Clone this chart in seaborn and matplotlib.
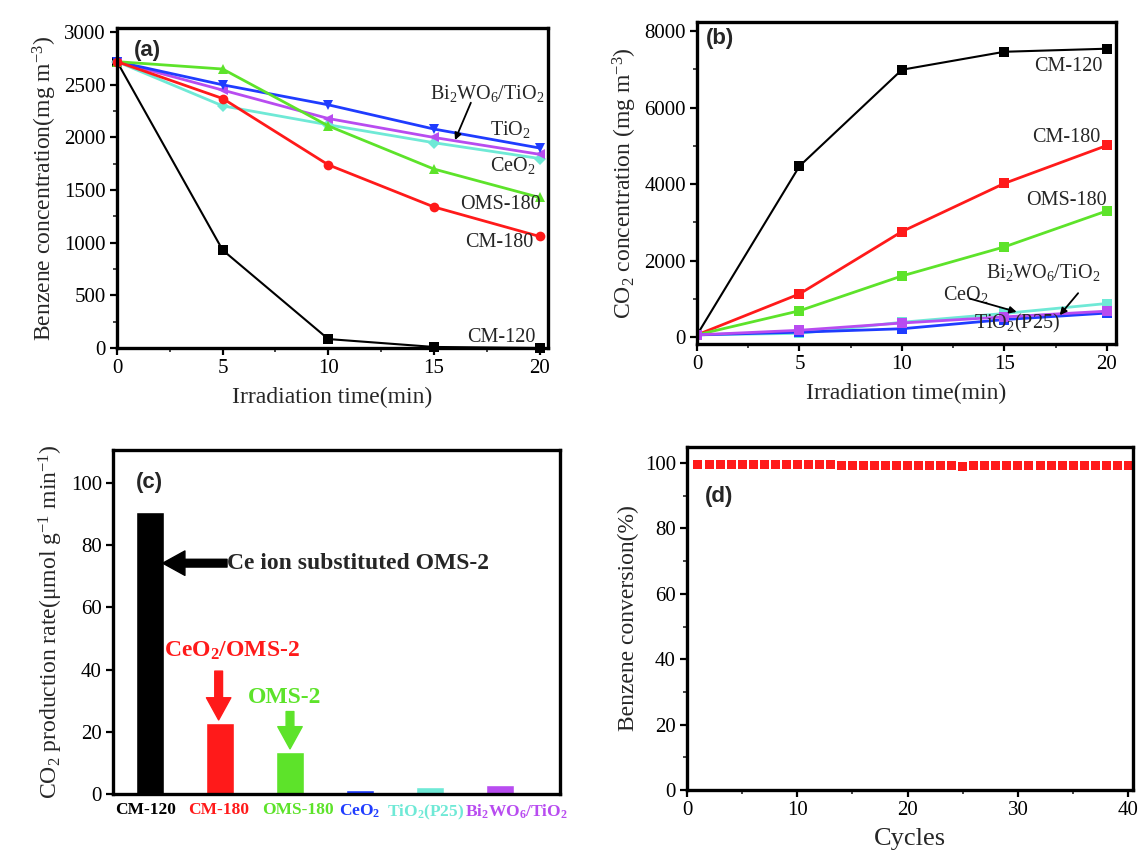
import numpy as np
import pandas as pd
import matplotlib
matplotlib.use("Agg")
import matplotlib.pyplot as plt
from matplotlib.ticker import AutoMinorLocator, MultipleLocator
from matplotlib.transforms import ScaledTranslation
import seaborn as sns

# ---- data -------------------------------------------------------------
time_min = [0, 5, 10, 15, 20]

# (a) benzene concentration, mg m^-3
benz_cm120 = [2720, 930, 85, 10, 0]
benz_cm180 = [2720, 2370, 1740, 1340, 1060]
benz_oms180 = [2720, 2650, 2110, 1700, 1430]
benz_ceo2 = [2720, 2500, 2310, 2080, 1900]
benz_tio2 = [2720, 2300, 2120, 1950, 1800]
benz_bi2wo6 = [2720, 2450, 2180, 2000, 1840]

# (b) CO2 concentration, mg m^-3
co2_cm120 = [60, 4470, 6990, 7460, 7540]
co2_cm180 = [60, 1130, 2760, 4020, 5010]
co2_oms180 = [60, 690, 1600, 2360, 3300]
co2_ceo2 = [60, 130, 220, 460, 630]
co2_tio2 = [60, 100, 390, 620, 880]
co2_bi2wo6 = [60, 180, 370, 530, 680]

# (c) CO2 production rate, umol g^-1 min^-1
catalysts = ["CM-120", "CM-180", "OMS-180", "CeO2", "TiO2(P25)", "Bi2WO6/TiO2"]
catalyst_labels = [r"CM-120", r"CM-180", r"OMS-180", r"CeO$_\mathbf{2}$",
                   r"TiO$_\mathbf{2}$(P25)", r"Bi$_\mathbf{2}$WO$_\mathbf{6}$/TiO$_\mathbf{2}$"]
co2_rate = [90.8, 22.8, 13.5, 1.2, 2.3, 3.0]

# (d) benzene conversion over repeated cycles, %
cycles = list(range(1, 41))
conversion = [99.5, 99.5, 99.5, 99.5, 99.5, 99.5, 99.5, 99.5, 99.5, 99.5,
              99.5, 99.5, 99.5, 99.3, 99.4, 99.4, 99.4, 99.4, 99.4, 99.4,
              99.4, 99.4, 99.4, 99.4, 99.1, 99.4, 99.4, 99.4, 99.4, 99.4,
              99.4, 99.2, 99.4, 99.4, 99.4, 99.4, 99.4, 99.4, 99.4, 99.4]

# ---- style --------------------------------------------------------------
C_BLACK = "#000000"
C_RED = "#ff1a1a"
C_GREEN = "#5de32a"
C_BLUE = "#1f3cff"
C_CYAN = "#6fe9d6"
C_PURPLE = "#b84cf0"

sns.set_theme(style="ticks")
plt.rcParams["font.family"] = ["Liberation Serif", "DejaVu Serif"]
plt.rcParams["mathtext.fontset"] = "custom"
plt.rcParams["mathtext.rm"] = "Liberation Serif"
plt.rcParams["mathtext.it"] = "Liberation Serif:italic"
plt.rcParams["mathtext.bf"] = "Liberation Serif:bold"
plt.rcParams["axes.linewidth"] = 2.4
plt.rcParams["axes.edgecolor"] = "black"

TICK_FS = 15
LABEL_FS = 17

fig = plt.figure(figsize=(11.43, 8.58), dpi=100)
ax_a = fig.add_axes([0.1024, 0.5944, 0.377, 0.373])
ax_b = fig.add_axes([0.6098, 0.599, 0.3666, 0.375])
ax_c = fig.add_axes([0.0989, 0.0746, 0.391, 0.401])
ax_d = fig.add_axes([0.601, 0.0793, 0.390, 0.400])


def style_axis(ax, minor_x=True, minor_y=True):
    ax.tick_params(which="major", direction="out", length=5, width=1.6,
                   labelsize=TICK_FS, colors="black", pad=3)
    ax.tick_params(which="minor", direction="out", length=3, width=1.2)
    if minor_x:
        ax.xaxis.set_minor_locator(AutoMinorLocator(2))
    if minor_y:
        ax.yaxis.set_minor_locator(AutoMinorLocator(2))
    for s in ax.spines.values():
        s.set_visible(True)
        s.set_linewidth(2.4)
        s.set_color("black")
    ax.grid(False)


def panel_tag(ax, tag, x, y):
    ax.text(x, y, tag, transform=ax.transAxes, fontsize=16, fontweight="bold",
            family=["Liberation Sans", "DejaVu Sans"], ha="left", va="center")


def series_frame(names, arrays):
    rows = []
    for n, arr in zip(names, arrays):
        for t, v in zip(time_min, arr):
            rows.append({"time": t, "value": v, "sample": n})
    return pd.DataFrame(rows)


# ---- (a) benzene degradation ---------------------------------------------
names = ["CM-120", "CM-180", "OMS-180", "CeO2", "TiO2", "Bi2WO6/TiO2"]
palette = dict(zip(names, [C_BLACK, C_RED, C_GREEN, C_BLUE, C_CYAN, C_PURPLE]))
markers_a = dict(zip(names, ["s", "o", "^", "v", "D", "<"]))
df_a = series_frame(names, [benz_cm120, benz_cm180, benz_oms180,
                            benz_ceo2, benz_tio2, benz_bi2wo6])
draw_order = ["CM-120", "TiO2", "Bi2WO6/TiO2", "CeO2", "OMS-180", "CM-180"]
for n in draw_order:
    sub = df_a[df_a["sample"] == n]
    sns.lineplot(data=sub, x="time", y="value", ax=ax_a, color=palette[n],
                 marker=markers_a[n], markersize=7 if n != "TiO2" else 6,
                 markeredgewidth=0, linewidth=2.0 if n != "CM-120" else 1.5,
                 legend=False, clip_on=False)
ax_a.set_xlim(0, 20.4)
ax_a.set_ylim(0, 3040)
ax_a.xaxis.set_major_locator(MultipleLocator(5))
ax_a.yaxis.set_major_locator(MultipleLocator(500))
style_axis(ax_a)
ax_a.set_xlabel("Irradiation time(min)", fontsize=LABEL_FS, labelpad=6)
ax_a.set_ylabel(r"Benzene concentration(mg m$^{-3}$)", fontsize=LABEL_FS, labelpad=4)
panel_tag(ax_a, "(a)", 0.04, 0.93)

lab_fs = 14.5
ax_a.text(20.25, 2420, r"Bi$_2$WO$_6$/TiO$_2$", fontsize=lab_fs, ha="right", va="center")
ax_a.annotate("", xy=(16.0, 1975), xytext=(16.75, 2330),
              arrowprops=dict(arrowstyle="-|>", color="black", lw=1.3,
                              mutation_scale=10, shrinkA=0, shrinkB=0))
ax_a.text(19.6, 2075, r"TiO$_2$", fontsize=lab_fs, ha="right", va="center")
ax_a.text(19.8, 1735, r"CeO$_2$", fontsize=lab_fs, ha="right", va="center")
ax_a.text(20.05, 1360, "OMS-180", fontsize=lab_fs, ha="right", va="center")
ax_a.text(19.7, 1000, "CM-180", fontsize=lab_fs, ha="right", va="center")
ax_a.text(19.8, 100, "CM-120", fontsize=lab_fs, ha="right", va="center")

# ---- (b) CO2 evolution ----------------------------------------------------
df_b = series_frame(names, [co2_cm120, co2_cm180, co2_oms180,
                            co2_ceo2, co2_tio2, co2_bi2wo6])
for n in ["CM-120", "CM-180", "OMS-180", "TiO2", "CeO2", "Bi2WO6/TiO2"]:
    sub = df_b[df_b["sample"] == n]
    sns.lineplot(data=sub, x="time", y="value", ax=ax_b, color=palette[n],
                 marker="s", markersize=7, markeredgewidth=0,
                 linewidth=2.0 if n != "CM-120" else 1.5, legend=False)
ax_b.set_xlim(0, 20.45)
ax_b.set_ylim(-180, 8230)
ax_b.xaxis.set_major_locator(MultipleLocator(5))
ax_b.yaxis.set_major_locator(MultipleLocator(2000))
style_axis(ax_b)
ax_b.set_xlabel("Irradiation time(min)", fontsize=LABEL_FS, labelpad=6)
ax_b.set_ylabel(r"CO$_2$ concentration (mg m$^{-3}$)", fontsize=LABEL_FS, labelpad=4)
panel_tag(ax_b, "(b)", 0.02, 0.95)

ax_b.text(19.8, 7080, "CM-120", fontsize=lab_fs, ha="right", va="center")
ax_b.text(19.7, 5230, "CM-180", fontsize=lab_fs, ha="right", va="center")
ax_b.text(20.0, 3580, "OMS-180", fontsize=lab_fs, ha="right", va="center")
ax_b.text(19.7, 1700, r"Bi$_2$WO$_6$/TiO$_2$", fontsize=lab_fs, ha="right", va="center")
ax_b.text(12.0, 1120, r"CeO$_2$", fontsize=lab_fs, ha="left", va="center")
ax_b.text(13.5, 370, r"TiO$_2$(P25)", fontsize=lab_fs, ha="left", va="center")
ax_b.annotate("", xy=(15.6, 660), xytext=(13.3, 1010),
              arrowprops=dict(arrowstyle="-|>", color="black", lw=1.3,
                              mutation_scale=10, shrinkA=0, shrinkB=0))
ax_b.annotate("", xy=(17.7, 575), xytext=(18.6, 1150),
              arrowprops=dict(arrowstyle="-|>", color="black", lw=1.3,
                              mutation_scale=10, shrinkA=0, shrinkB=0))

# ---- (c) CO2 production rate -----------------------------------------------
bar_colors = [C_BLACK, C_RED, C_GREEN, C_BLUE, C_CYAN, C_PURPLE]
df_c = pd.DataFrame({"catalyst": catalysts, "rate": co2_rate})
sns.barplot(data=df_c, x="catalyst", y="rate", hue="catalyst",
            palette=dict(zip(catalysts, bar_colors)), ax=ax_c,
            width=0.4, legend=False, saturation=1)
ax_c.set_xlim(-0.53, 5.86)
ax_c.set_ylim(0, 110.6)
ax_c.yaxis.set_major_locator(MultipleLocator(20))
style_axis(ax_c, minor_x=False, minor_y=False)
ax_c.tick_params(axis="x", length=0, pad=6)
ax_c.set_xticks(range(len(catalysts)))
ax_c.set_xticklabels(catalyst_labels, fontsize=12.5, fontweight="bold")
# small horizontal nudges (points) so the crowded category labels sit side by side
label_shift_pt = [-3.5, -1.0, 6.0, 0.0, -3.0, 12.0]
for lbl, col, dx in zip(ax_c.get_xticklabels(), bar_colors, label_shift_pt):
    lbl.set_color(col)
    lbl.set_transform(lbl.get_transform() + ScaledTranslation(dx / 72, 0, fig.dpi_scale_trans))
ax_c.set_xlabel("")
ax_c.set_ylabel("CO$_2$ production rate(μmol g$^{-1}$ min$^{-1}$)",
                fontsize=LABEL_FS, labelpad=4)
panel_tag(ax_c, "(c)", 0.05, 0.905)

ax_c.text(1.1, 74.2, "Ce ion substituted OMS-2", fontsize=17, fontweight="bold",
          ha="left", va="center")
ax_c.annotate("", xy=(0.18, 74.2), xytext=(1.1, 74.2),
              arrowprops=dict(arrowstyle="simple,head_width=1.1,head_length=1.0,tail_width=0.35",
                              color="black", mutation_scale=16, shrinkA=0, shrinkB=0))
ax_c.text(1.17, 46.0, r"CeO$_\mathbf{2}$/OMS-2", fontsize=17, fontweight="bold",
          color=C_RED, ha="center", va="center")
ax_c.annotate("", xy=(0.98, 23.8), xytext=(0.98, 39.5),
              arrowprops=dict(arrowstyle="simple,head_width=1.1,head_length=1.0,tail_width=0.35",
                              color=C_RED, mutation_scale=16, shrinkA=0, shrinkB=0))
ax_c.text(1.92, 31.0, "OMS-2", fontsize=17, fontweight="bold",
          color=C_GREEN, ha="center", va="center")
ax_c.annotate("", xy=(2.0, 14.5), xytext=(2.0, 26.5),
              arrowprops=dict(arrowstyle="simple,head_width=1.1,head_length=1.0,tail_width=0.35",
                              color=C_GREEN, mutation_scale=16, shrinkA=0, shrinkB=0))

# ---- (d) recycling stability ----------------------------------------------
df_d = pd.DataFrame({"cycle": cycles, "conversion": conversion})
sns.scatterplot(data=df_d, x="cycle", y="conversion", ax=ax_d, marker="s",
                s=42, color=C_RED, edgecolor="none", legend=False, clip_on=False)
ax_d.set_xlim(0, 40.4)
ax_d.set_ylim(0, 105)
ax_d.xaxis.set_major_locator(MultipleLocator(10))
ax_d.yaxis.set_major_locator(MultipleLocator(20))
style_axis(ax_d)
ax_d.set_xlabel("Cycles", fontsize=LABEL_FS + 2, labelpad=6)
ax_d.set_ylabel("Benzene conversion(%)", fontsize=LABEL_FS, labelpad=4)
panel_tag(ax_d, "(d)", 0.04, 0.855)

fig.savefig("out.png", dpi=100)
